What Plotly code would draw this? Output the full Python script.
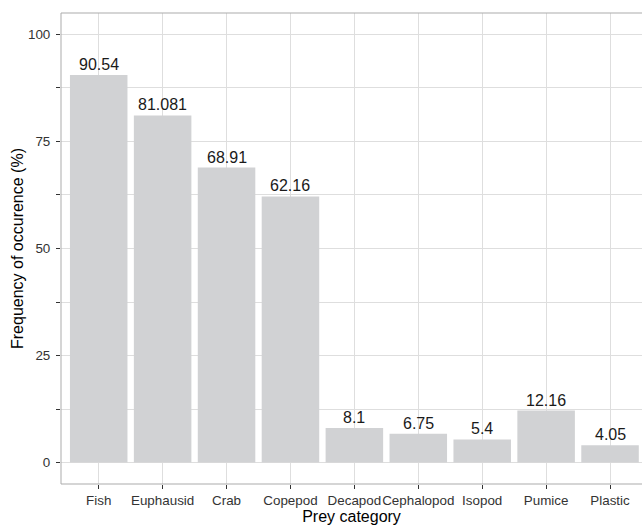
import plotly.graph_objects as go

categories = ["Fish", "Euphausid", "Crab", "Copepod", "Decapod", "Cephalopod", "Isopod", "Pumice", "Plastic"]
values = [90.54, 81.081, 68.91, 62.16, 8.1, 6.75, 5.4, 12.16, 4.05]
value_labels = ["90.54", "81.081", "68.91", "62.16", "8.1", "6.75", "5.4", "12.16", "4.05"]
y_tickvals = [0, 12.5, 25, 37.5, 50, 62.5, 75, 87.5, 100]
y_ticktext = ["0", "", "25", "", "50", "", "75", "", "100"]

FONT = "Liberation Sans, Arial, Helvetica, sans-serif"

fig = go.Figure()
fig.add_trace(go.Bar(
    x=categories, y=values,
    marker=dict(color="#D1D2D4", line=dict(width=0)),
    width=0.9,
    hoverinfo="skip",
))

for c, v, t in zip(categories, values, value_labels):
    fig.add_annotation(x=c, y=v, text=t, showarrow=False, yanchor="bottom",
                       yshift=0, font=dict(family=FONT, size=16, color="#1a1a1a"))

fig.add_shape(type="rect", xref="paper", yref="paper", x0=0, x1=1.05, y0=0, y1=1,
              line=dict(color="#ABABAB", width=1), layer="above")

fig.update_layout(
    width=642, height=525,
    margin=dict(l=61, r=0, t=13, b=41, pad=0),
    paper_bgcolor="white", plot_bgcolor="white",
    showlegend=False,
    font=dict(family=FONT),
    xaxis=dict(
        type="category", range=[-0.59, 8.5],
        showgrid=True, gridcolor="#DEDEDE", gridwidth=1,
        ticks="outside", ticklen=4, tickcolor="#333333", tickwidth=1,
        tickangle=0,
        tickfont=dict(family=FONT, size=13.4, color="#333333"),
        showline=False, zeroline=False,
        title=dict(text="Prey category", font=dict(family=FONT, size=16, color="#000000"), standoff=2),
    ),
    yaxis=dict(
        range=[-5, 105],
        tickmode="array", tickvals=y_tickvals, ticktext=y_ticktext,
        showgrid=True, gridcolor="#DEDEDE", gridwidth=1,
        ticks="outside", ticklen=4, tickcolor="#333333", tickwidth=1,
        ticklabelstandoff=3,
        tickfont=dict(family=FONT, size=13.4, color="#333333"),
        showline=False, zeroline=False,
        title=dict(text="Frequency of occurence (%)", font=dict(family=FONT, size=16, color="#000000"), standoff=0),
    ),
)

fig.write_html("out.html", config={"displayModeBar": False},
               post_script="document.body.style.margin='0';document.body.style.overflow='hidden';")
